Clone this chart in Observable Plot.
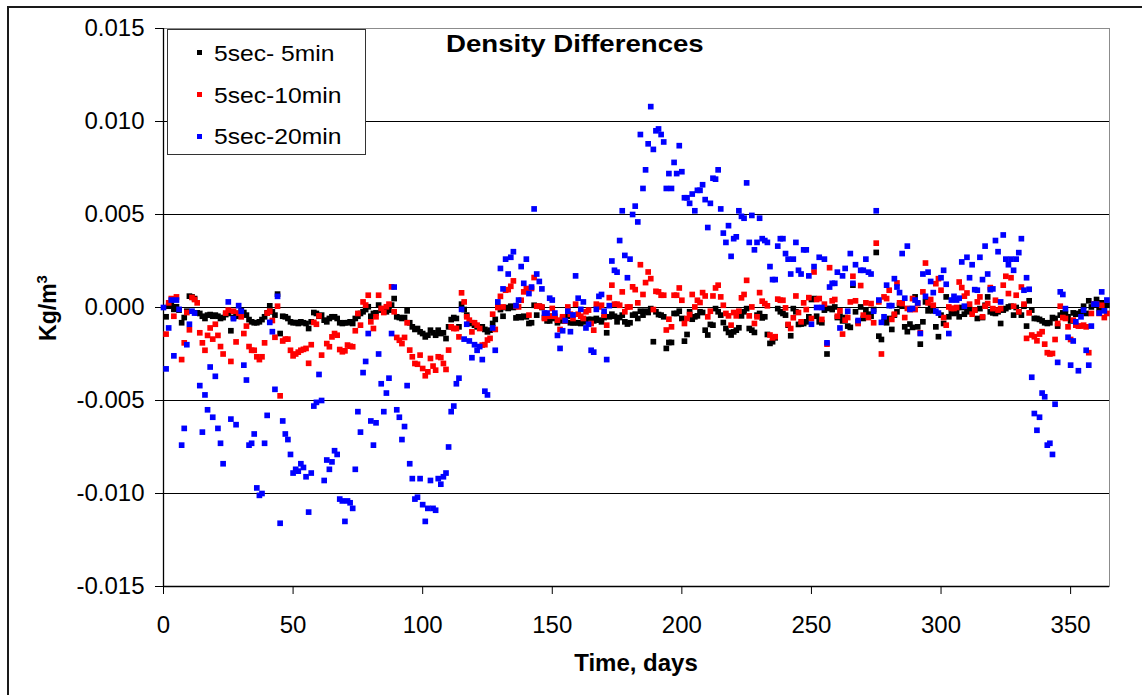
<!DOCTYPE html>
<html>
<head>
<meta charset="utf-8">
<script src="https://cdn.jsdelivr.net/npm/d3@7"></script>
<script src="https://cdn.jsdelivr.net/npm/@observablehq/plot@0.6"></script>
<style>
html, body { margin: 0; padding: 0; background: #fff; }
#wrap { position: relative; width: 1142px; height: 695px; overflow: hidden; font-family: "Liberation Sans", Arial, sans-serif; color: #000; }
#outer { position: absolute; left: 7px; top: 6px; width: 1300px; height: 900px; border: 2px solid #1a1a1a; box-sizing: border-box; }
#chart { position: absolute; left: 0; top: 0; }
#legend { position: absolute; left: 167px; top: 29px; width: 199px; height: 126px; box-sizing: border-box; border: 1px solid #333; background: #fff; }
.lg-mark { position: absolute; width: 5px; height: 5px; }
.lg-text { position: absolute; font-size: 22px; line-height: 22px; white-space: nowrap; transform-origin: 0 0; transform: scaleX(1.12); }
#title { position: absolute; left: 446px; top: 32px; font-size: 24px; line-height: 24px; font-weight: bold; white-space: nowrap; transform-origin: 0 0; transform: scaleX(1.15); }
#xlabel { position: absolute; left: 636px; top: 651px; font-size: 24px; line-height: 24px; font-weight: bold; white-space: nowrap; transform: translateX(-50%); }
#ylabel { position: absolute; left: 0; top: 0; font-size: 23px; line-height: 24px; font-weight: bold; white-space: nowrap; transform-origin: 0 0; transform: translate(56px, 308px) rotate(-90deg) translate(-50%, -20px); }
#ylabel sup { font-size: 15px; line-height: 0; vertical-align: 9px; }
</style>
</head>
<body>
<div id="wrap">
  <div id="outer"></div>
  <div id="chart"></div>
  <div id="legend"></div>
  <div id="title">Density Differences</div>
  <div id="xlabel">Time, days</div>
  <div id="ylabel">Kg/m<sup>3</sup></div>
</div>
<script>
// Daily density differences, in units of 1e-3 kg/m3 (index = day, null = no point)
const black = [
  null, -0.5, 0.07, 0.18, -0.1, 0.04, -0.14, -0.82, -0.54, -0.2,
  0.61, 0.57, 0.48, -0.29, -0.32, -0.47, -0.59, -0.41, -0.38, -0.47,
  -0.41, -0.47, -0.59, -0.54, -0.38, -0.32, -1.25, -0.54, -0.47, -0.32,
  -0.14, -0.27, -0.41, -0.65, -0.77, -0.82, -0.82, -0.77, -0.65, -0.5,
  -0.29, 0.09, -0.23, -0.41, 0.72, -1.4, -0.47, -0.5, -0.59, -0.77,
  -0.82, -0.81, -0.86, -0.77, -0.82, -0.86, -1.13, -0.77, -0.27, -0.32,
  -0.47, -0.41, -0.68, -0.77, -0.59, -0.5, -0.5, -0.59, -0.82, -0.86,
  -0.82, -0.82, -0.77, -0.86, -0.59, -0.47, -0.32, -0.23, -0.11, 0.04,
  -0.47, -0.32, -0.29, 0.13, -0.14, -0.2, -0.23, -0.14, 0.13, 0.48,
  -0.5, -0.54, -0.59, -0.54, -0.18, -0.82, -1.04, -1.18, -1.13, -1.31,
  -1.4, -1.58, -1.49, -1.22, -1.36, -1.49, -1.22, -1.4, -1.36, -1.67,
  -1.04, -0.65, -0.54, -0.59, -1.04, 0.18, -0.11, -0.41, -0.86, -0.82,
  -0.95, -1.04, -1.04, -1.04, -1.18, -1.31, -1.22, -0.86, -0.64, 0.03,
  -0.11, -0.47, 0.0, -0.05, 0.07, 0.0, -0.56, -0.5, -0.54, -0.47,
  -0.5, -0.86, -0.82, 0.12, -0.41, 0.07, 0.0, -0.54, -0.72, -0.72,
  -0.47, -0.59, -0.82, -0.72, -0.59, -0.72, -0.47, -0.82, -0.82, -0.82,
  -0.82, -0.86, -0.72, -0.77, -0.64, -0.64, -0.72, -0.59, -0.68, -0.77,
  -0.54, -1.36, -0.5, -0.36, -0.47, -0.77, -0.54, -0.41, -0.77, -0.89,
  -0.82, -0.41, -0.36, -0.59, -0.2, -0.41, -0.2, -0.27, -0.06, -1.84,
  -0.23, -0.38, -0.41, -0.5, -2.2, -1.88, -1.88, -0.32, -0.32, -0.2,
  -0.59, -1.81, -1.45, -0.23, -0.63, -0.5, -0.45, -0.23, -0.27, -1.22,
  -1.48, -0.91, -0.95, -0.06, -0.23, -0.41, -0.81, -1.13, -1.34, -1.48,
  -1.31, -1.22, -1.09, -0.45, -0.23, -0.06, -1.13, -1.22, -1.34, -0.41,
  -0.32, -0.56, -0.5, -1.45, -1.93, -1.84, -1.63, -0.06, -0.23, -0.32,
  -0.41, -0.95, -1.52, -0.06, -0.23, -0.91, -0.89, -0.86, -0.77, -0.5,
  0.43, 0.48, -0.47, -0.77, -0.82, -0.14, -2.5, -0.05, -0.11, 0.03,
  -0.54, -0.47, -0.72, -0.54, -1.0, -1.07, 1.2, -0.23, -0.77, 0.03,
  -0.59, -0.14, -0.36, -0.47, -0.11, 2.96, -1.54, -1.72, -0.77, -0.82,
  -0.59, -1.18, -0.41, -0.23, 0.12, 0.07, -1.04, -1.3, -0.89, -1.07,
  0.57, -1.04, -1.97, -0.77, 0.3, -0.18, 0.03, -0.18, -1.04, -1.57,
  -0.41, -0.86, 0.57, -0.5, -0.23, -0.32, -0.23, -0.5, 0.0, -0.36,
  -0.23, -0.11, -0.23, -0.14, -0.59, -0.06, -0.54, 0.12, 0.57, -0.23,
  -0.29, -0.32, -0.23, -0.86, -0.14, -0.06, 0.03, 0.07, -0.41, 0.0,
  -0.23, -0.41, 0.07, -1.0, 0.36, -0.14, -0.59, -0.59, -0.64, -0.72,
  -0.82, -0.86, -0.82, -0.54, -0.59, -1.0, -0.41, -0.29, -0.32, -0.5,
  -0.72, -0.29, -0.36, -0.32, -0.23, 0.07, -0.32, 0.36, 0.03, 0.18,
  0.43, -0.06, 0.25, -0.14, 0.12
];
const red = [
  null, -1.43, 0.25, 0.48, -0.47, 0.57, null, -2.8, -1.9, -0.27,
  -1.2, 0.54, 0.43, 0.25, -1.36, -1.9, -2.3, -1.5, -1.1, -1.7,
  -0.9, -1.5, -2.1, -2.5, -0.3, -0.14, -2.9, -0.2, -1.85, -0.3,
  -0.5, -1.4, -1.0, -2.1, -2.3, -2.3, -2.65, -2.8, -2.65, -1.9,
  -0.3, -0.2, -0.7, -1.6, 0.07, -4.75, -1.8, -1.7, -1.7, -2.3,
  -2.6, -2.5, -2.4, -2.3, -2.25, -2.2, -3.0, -2.0, -0.8, -0.9,
  -0.45, -2.56, null, -1.94, -2.11, -1.58, -1.4, -1.49, -2.26, -2.38,
  -2.33, -2.02, -2.08, -2.11, -1.25, -0.32, -0.95, 0.3, 0.13, 0.66,
  -0.77, -1.13, -0.5, 0.66, -0.05, -0.27, 0.04, 0.18, 1.11, -0.23,
  -1.61, -1.76, -1.94, -1.61, -0.82, -2.29, -2.65, -3.01, -3.05, -2.56,
  -3.28, -3.67, -3.46, -2.74, -3.15, -3.37, -2.65, -2.69, -3.01, -3.33,
  -2.29, -1.04, -1.13, -1.13, -1.58, 0.79, 0.3, -0.5, -0.68, -1.31,
  -0.82, -0.95, -1.13, -2.02, -2.0, -1.75, -1.66, -0.36, -1.18, 0.0,
  0.6, 0.03, 0.93, 0.96, 1.14, 1.43, 0.07, 0.03, 0.39, 0.84,
  1.02, -0.41, 1.02, 1.61, 0.07, 0.07, 0.03, -0.59, -0.47, -0.47,
  -0.05, -0.47, -0.68, -1.18, -0.5, -0.72, 0.03, -0.36, -0.59, 0.18,
  -0.36, -0.47, -0.59, -0.23, -0.14, -0.86, -1.22, 0.18, 0.03, 0.12,
  -0.41, -0.95, 0.53, 1.2, 0.18, 0.18, 0.12, 0.84, -0.23, 0.03,
  0.03, 1.11, 0.96, 0.25, 2.3, 0.7, 1.34, 1.91, 1.55, -0.11,
  0.87, 0.84, 0.66, 0.66, -1.21, -0.63, -1.04, 0.66, 0.66, 1.05,
  0.39, -0.86, -0.59, -0.38, 0.7, 0.03, 0.39, 0.27, 0.8, 0.62,
  -0.5, -0.2, 0.62, 1.05, 1.2, 0.57, 0.12, -0.32, -0.45, -0.95,
  -0.27, -0.45, -0.2, 0.52, 0.7, 1.46, -0.45, 0.03, -0.86, -0.5,
  0.8, 0.34, 0.21, 0.09, -1.48, -1.63, -1.57, 0.45, 0.39, 0.39,
  -0.02, -0.91, -1.13, -0.55, 0.62, -0.27, -0.77, 0.25, -0.11, 0.53,
  -0.59, 1.91, 0.43, 0.48, -0.64, 0.18, -1.97, 2.14, 0.36, 0.43,
  -0.47, -0.18, -1.43, -0.68, -0.54, 0.3, 1.68, 0.36, -0.86, 1.18,
  -0.41, 0.25, -0.54, 0.21, -0.82, 3.46, 0.3, -2.5, 0.57, 0.48,
  0.93, -0.64, -0.36, 1.32, 0.25, 0.21, -0.54, -0.05, -0.11, 0.48,
  -0.11, 0.21, -1.36, 0.84, 2.39, 0.25, 0.43, 0.12, 1.28, 1.55,
  0.93, -0.54, -0.95, 0.03, -0.05, -0.05, 0.0, 1.37, 1.07, 0.61,
  0.78, 0.18, -0.36, -0.14, 0.3, 0.57, -0.5, 0.07, 0.21, 1.07,
  -0.06, 0.39, -0.14, -0.06, 1.2, 1.68, 0.75, 1.6, 0.07, 0.66,
  -0.23, 1.1, 0.18, -1.66, -0.29, -1.48, -1.57, -1.79, -1.43, -1.3,
  -1.97, -2.43, -2.5, -2.47, -1.72, -0.86, 0.07, -0.54, -0.59, -1.04,
  -1.72, -0.68, -0.95, -1.0, -1.0, -0.95, -1.04, -2.43, -0.32, 0.18,
  0.18, -0.32, 0.12, -0.54, -0.32
];
const blue = [
  0.0, -3.3, -1.1, 0.4, -2.6, 0.4, -0.1, -7.4, -6.5, -2.0,
  -0.9, -0.2, -0.3, null, -4.2, -6.7, -4.7, -5.5, -3.2, -5.9,
  -3.7, -6.5, -7.3, -8.4, null, 0.3, -6.0, -0.6, -6.3, 0.1,
  -0.2, -3.1, -3.9, -7.4, -7.3, -6.8, -9.7, -10.1, -10.0, -7.3,
  -5.8, -0.8, -1.3, -4.4, 0.6, -11.6, -6.1, -6.8, -7.1, -7.9,
  -8.9, -8.7, -8.8, -8.4, -8.6, -9.1, -11.0, -8.9, -5.3, -5.1,
  -3.6, -5.0, -9.3, -8.2, -8.7, -8.3, -7.7, -7.9, -10.3, -10.4,
  -11.5, -10.4, -10.5, -10.8, -8.7, -5.6, -6.7, -3.5, -2.9, -1.4,
  -6.1, -7.4, -6.2, -2.5, -4.1, -5.6, -4.6, -3.8, -1.4, 1.1,
  -5.5, -5.9, -7.1, -6.4, -4.2, -8.4, -9.2, -10.3, -10.2, -9.2,
  -10.6, -11.5, -10.8, -9.3, -10.8, -10.9, -9.2, -9.5, -9.1, -8.9,
  -7.5, -5.6, -5.3, -4.1, -3.8, -0.1, -1.7, -0.9, -1.8, -2.7,
  -2.0, -2.3, -2.1, -2.8, -4.5, -4.7, null, -1.1, -2.3, 0.3,
  2.1, 1.0, 2.6, 1.8, 2.7, 3.0, 0.1, 0.4, 2.2, 1.3,
  2.6, 0.75, 1.1, 5.3, 1.8, 1.4, 1.0, -0.3, -0.3, 0.5,
  0.4, -0.3, -1.5, -2.2, -1.25, -0.7, -0.2, -1.3, -0.4, 1.7,
  0.5, -0.1, 0.3, -1.1, -0.9, -2.3, -2.4, -0.1, 0.6, 0.7,
  -0.2, -2.8, 0.1, 2.5, 2.0, 1.9, 3.6, 5.2, 2.8, 1.6,
  2.6, 5.0, 5.45, 4.6, 9.3, 6.4, 7.4, 8.8, 10.8, 8.5,
  9.5, 9.6, 9.3, 8.9, 6.4, 7.2, 6.4, 7.8, 7.2, 8.7,
  7.3, 5.9, 5.9, 5.6, 6.1, 5.2, 6.3, 6.3, 6.6, 5.8,
  4.3, 5.6, 6.95, 6.9, 7.4, 5.3, 4.0, 3.5, 4.4, 2.75,
  3.7, 3.8, 5.2, 4.9, 4.8, 6.7, 3.5, 4.95, 3.1, 3.5,
  4.8, 3.7, 3.6, 3.5, 2.2, 1.5, 1.5, 3.3, 3.7, 3.7,
  2.9, 2.6, 1.8, 2.6, 3.5, 2.0, 1.8, 3.1, 3.1, 1.7,
  -0.9, 2.2, 0.0, 2.7, 0.0, 2.6, -1.9, 1.1, 1.3, 1.3,
  1.9, -1.1, 1.7, 2.1, -0.2, 2.9, 1.3, 2.3, -0.7, 2.0,
  2.0, 2.6, 1.9, 1.8, -0.2, 5.2, 0.4, -0.8, -0.5, 1.2,
  0.1, 0.1, 1.55, 1.1, 0.8, 2.9, 0.5, 3.3, -0.1, -0.05,
  0.4, 0.25, -1.4, 1.8, 0.6, 1.9, 1.4, 0.8, -0.2, -0.3,
  1.6, 2.0, 1.25, -1.4, 0.4, 0.6, 0.4, 0.5, 2.45, 0.07,
  2.7, 1.6, 2.3, 0.96, 0.93, 2.7, 1.5, 3.3, 1.8, 0.96,
  1.0, 3.6, 3.0, 0.3, 3.9, 2.6, 2.3, 2.6, 2.0, 2.6,
  2.95, 3.7, 0.93, 1.6, 0.98, -3.75, -5.7, -6.6, -5.9, -4.6,
  -4.8, -7.4, -7.3, -7.9, -5.2, -2.95, 0.84, 0.7, -0.06, -1.6,
  -3.1, -1.8, -0.77, -3.4, -0.5, -0.14, -2.3, -3.1, -1.0, 0.18,
  0.18, -0.3, 0.84, -0.18, 0.4
];

const seriesNames = ["5sec- 5min", "5sec-10min", "5sec-20min"];
const seriesColors = ["#000000", "#ff0000", "#0000ff"];
const xTicks = [0, 50, 100, 150, 200, 250, 300, 350];
const yTicks = [-0.015, -0.01, -0.005, 0, 0.005, 0.01, 0.015];
const yGrid = [-0.01, -0.005, 0, 0.005, 0.01];
const xDomain = [0, 365];
const yDomain = [-0.015, 0.015];

const seriesValues = [black, red, blue];
const points = [];
seriesValues.forEach((vals, s) => {
  vals.forEach((v, day) => {
    if (v !== null) points.push({day, value: v / 1000, series: seriesNames[s]});
  });
});

const chart = Plot.plot({
  width: 1142,
  height: 695,
  marginLeft: 163,
  marginRight: 33,
  marginTop: 28,
  marginBottom: 109,
  style: {fontFamily: "'Liberation Sans', Arial, sans-serif", fontSize: "24px", background: "transparent", color: "#000", overflow: "visible"},
  x: {domain: xDomain},
  y: {domain: yDomain},
  color: {domain: seriesNames, range: seriesColors},
  marks: [
    Plot.gridY(yGrid, {stroke: "#000", strokeOpacity: 1, strokeWidth: 1}),
    Plot.frame({stroke: "#8c8c8c", strokeWidth: 1}),
    Plot.ruleX([xDomain[0]], {stroke: "#000", strokeWidth: 1.3}),
    Plot.ruleY([yDomain[0]], {stroke: "#000", strokeWidth: 1.3}),
    Plot.axisX(xTicks, {tickSize: 8, tickPadding: 21, tickFormat: d => String(d), label: null, fontSize: 24}),
    Plot.axisY(yTicks, {tickSize: 8, tickPadding: 11, tickFormat: d => d.toFixed(3), label: null, fontSize: 24}),
    Plot.dot(points, {x: "day", y: "value", fill: "series", symbol: "square", r: 3.2})
  ]
});
document.getElementById("chart").appendChild(chart);

// legend (HTML, built from the series arrays)
const legend = document.getElementById("legend");
const centers = [22.5, 64.5, 106];
seriesNames.forEach((name, i) => {
  const m = document.createElement("div");
  m.className = "lg-mark";
  m.style.left = "29px";
  m.style.top = (centers[i] - 2.5) + "px";
  m.style.background = seriesColors[i];
  legend.appendChild(m);
  const t = document.createElement("div");
  t.className = "lg-text";
  t.style.left = "46px";
  t.style.top = (centers[i] + 0.8 - 10.75) + "px";
  t.textContent = name;
  legend.appendChild(t);
});
</script>
</body>
</html>
